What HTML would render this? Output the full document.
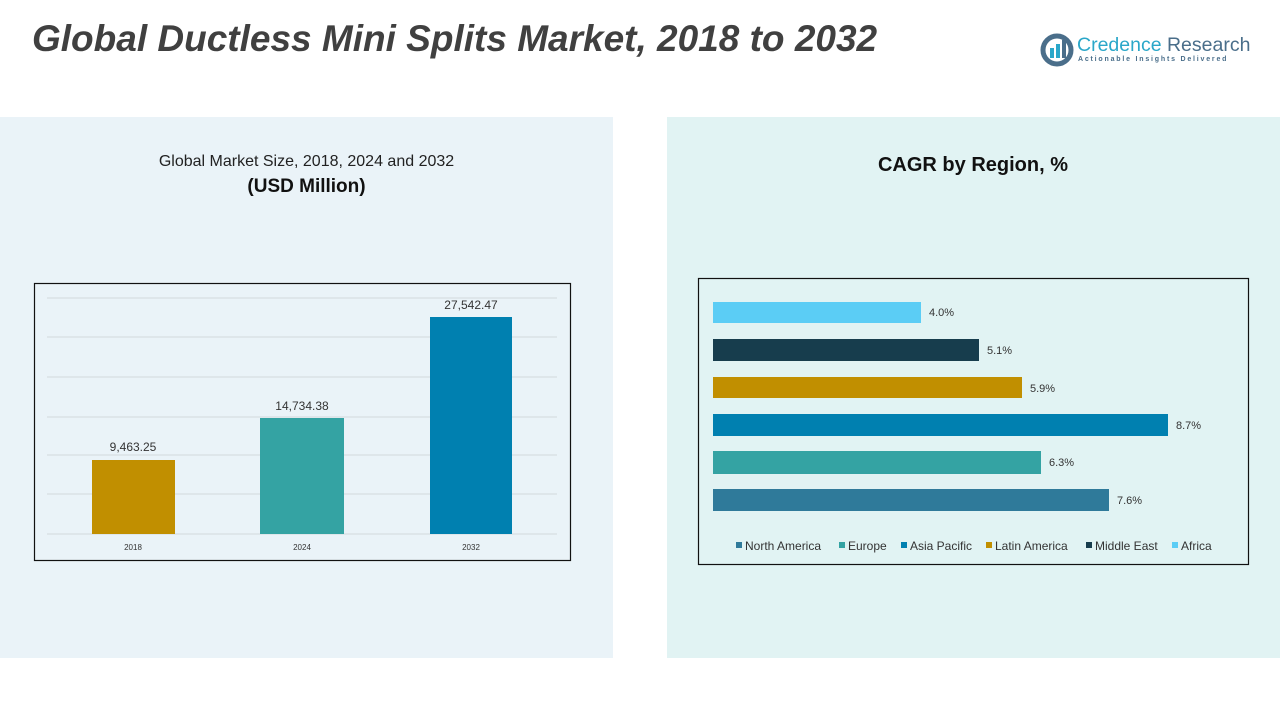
<!DOCTYPE html>
<html><head><style>
body{margin:0;width:1280px;height:720px;background:#fff;position:relative;overflow:hidden;font-family:"Liberation Sans",sans-serif;}
.a{position:absolute;}
</style></head><body>
<div class="a" style="left:0;top:117px;width:613px;height:541px;background:#eaf3f8"></div>
<div class="a" style="left:667px;top:117px;width:613px;height:541px;background:#e1f3f3"></div>
<div class="a" style="left:32px;top:18px;font-size:37px;font-weight:bold;font-style:italic;color:#404040">Global Ductless Mini Splits Market, 2018 to 2032</div>
<svg class="a" style="left:1040px;top:33px" width="34" height="34"><circle cx="17" cy="17" r="14" fill="none" stroke="#4a6e8a" stroke-width="5"/><rect x="10" y="15" width="4" height="10" fill="#2aa7c9"/><rect x="16" y="11" width="4" height="14" fill="#2aa7c9"/><rect x="22" y="7" width="4" height="18" fill="#4a6e8a"/></svg>
<div class="a" style="left:1077px;top:34px;font-size:19.5px;color:#2aa7c9">Credence <span style="color:#4a6e8a">Research</span></div>
<div class="a" style="left:1078px;top:56px;font-size:7px;letter-spacing:1.8px;color:#4a6e8a;font-weight:bold">Actionable Insights Delivered</div>
<div class="a" style="left:0;width:613px;top:153px;text-align:center;font-size:16px;color:#222">Global Market Size, 2018, 2024 and 2032</div>
<div class="a" style="left:0;width:613px;top:176px;text-align:center;font-size:19px;font-weight:bold;color:#111">(USD Million)</div>
<div class="a" style="left:667px;width:612px;top:154px;text-align:center;font-size:20px;font-weight:bold;color:#111">CAGR by Region, %</div>
<svg class="a" style="left:0;top:0" width="1280" height="720">
<rect x="34.5" y="283.5" width="536" height="277" fill="none" stroke="#111" stroke-width="1.2"/>
<g stroke="#d3d9dd" stroke-width="1">
<line x1="47" x2="557" y1="298" y2="298"/><line x1="47" x2="557" y1="337" y2="337"/><line x1="47" x2="557" y1="377" y2="377"/><line x1="47" x2="557" y1="417" y2="417"/><line x1="47" x2="557" y1="455" y2="455"/><line x1="47" x2="557" y1="494" y2="494"/><line x1="47" x2="557" y1="534" y2="534"/></g>
<rect x="92" y="460" width="83" height="74" fill="#c18f00"/>
<rect x="260" y="418" width="84" height="116" fill="#34a3a3"/>
<rect x="430" y="317" width="82" height="217" fill="#0080b0"/>
<g font-size="12" fill="#333" text-anchor="middle">
<text x="133" y="451">9,463.25</text><text x="302" y="410">14,734.38</text><text x="471" y="309">27,542.47</text></g>
<g font-size="8" fill="#333" text-anchor="middle">
<text x="133" y="550">2018</text><text x="302" y="550">2024</text><text x="471" y="550">2032</text></g>
<rect x="698.5" y="278.5" width="550" height="286" fill="none" stroke="#111" stroke-width="1.2"/>
<rect x="713" y="302" width="208" height="21" fill="#5bcdf5"/>
<rect x="713" y="339" width="266" height="22" fill="#173d4d"/>
<rect x="713" y="377" width="309" height="21" fill="#c18f00"/>
<rect x="713" y="414" width="455" height="22" fill="#0080b0"/>
<rect x="713" y="451" width="328" height="23" fill="#34a3a3"/>
<rect x="713" y="489" width="396" height="22" fill="#2f7a9a"/>
<g font-size="11" fill="#333">
<text x="929" y="316">4.0%</text><text x="987" y="354">5.1%</text><text x="1030" y="392">5.9%</text><text x="1176" y="429">8.7%</text><text x="1049" y="466">6.3%</text><text x="1117" y="504">7.6%</text></g>
<g font-size="12" fill="#333">
<rect x="736" y="542" width="6" height="6" fill="#2f7a9a"/><text x="745" y="550">North America</text>
<rect x="839" y="542" width="6" height="6" fill="#34a3a3"/><text x="848" y="550">Europe</text>
<rect x="901" y="542" width="6" height="6" fill="#0080b0"/><text x="910" y="550">Asia Pacific</text>
<rect x="986" y="542" width="6" height="6" fill="#c18f00"/><text x="995" y="550">Latin America</text>
<rect x="1086" y="542" width="6" height="6" fill="#173d4d"/><text x="1095" y="550">Middle East</text>
<rect x="1172" y="542" width="6" height="6" fill="#5bcdf5"/><text x="1181" y="550">Africa</text></g>
</svg>
</body></html>
